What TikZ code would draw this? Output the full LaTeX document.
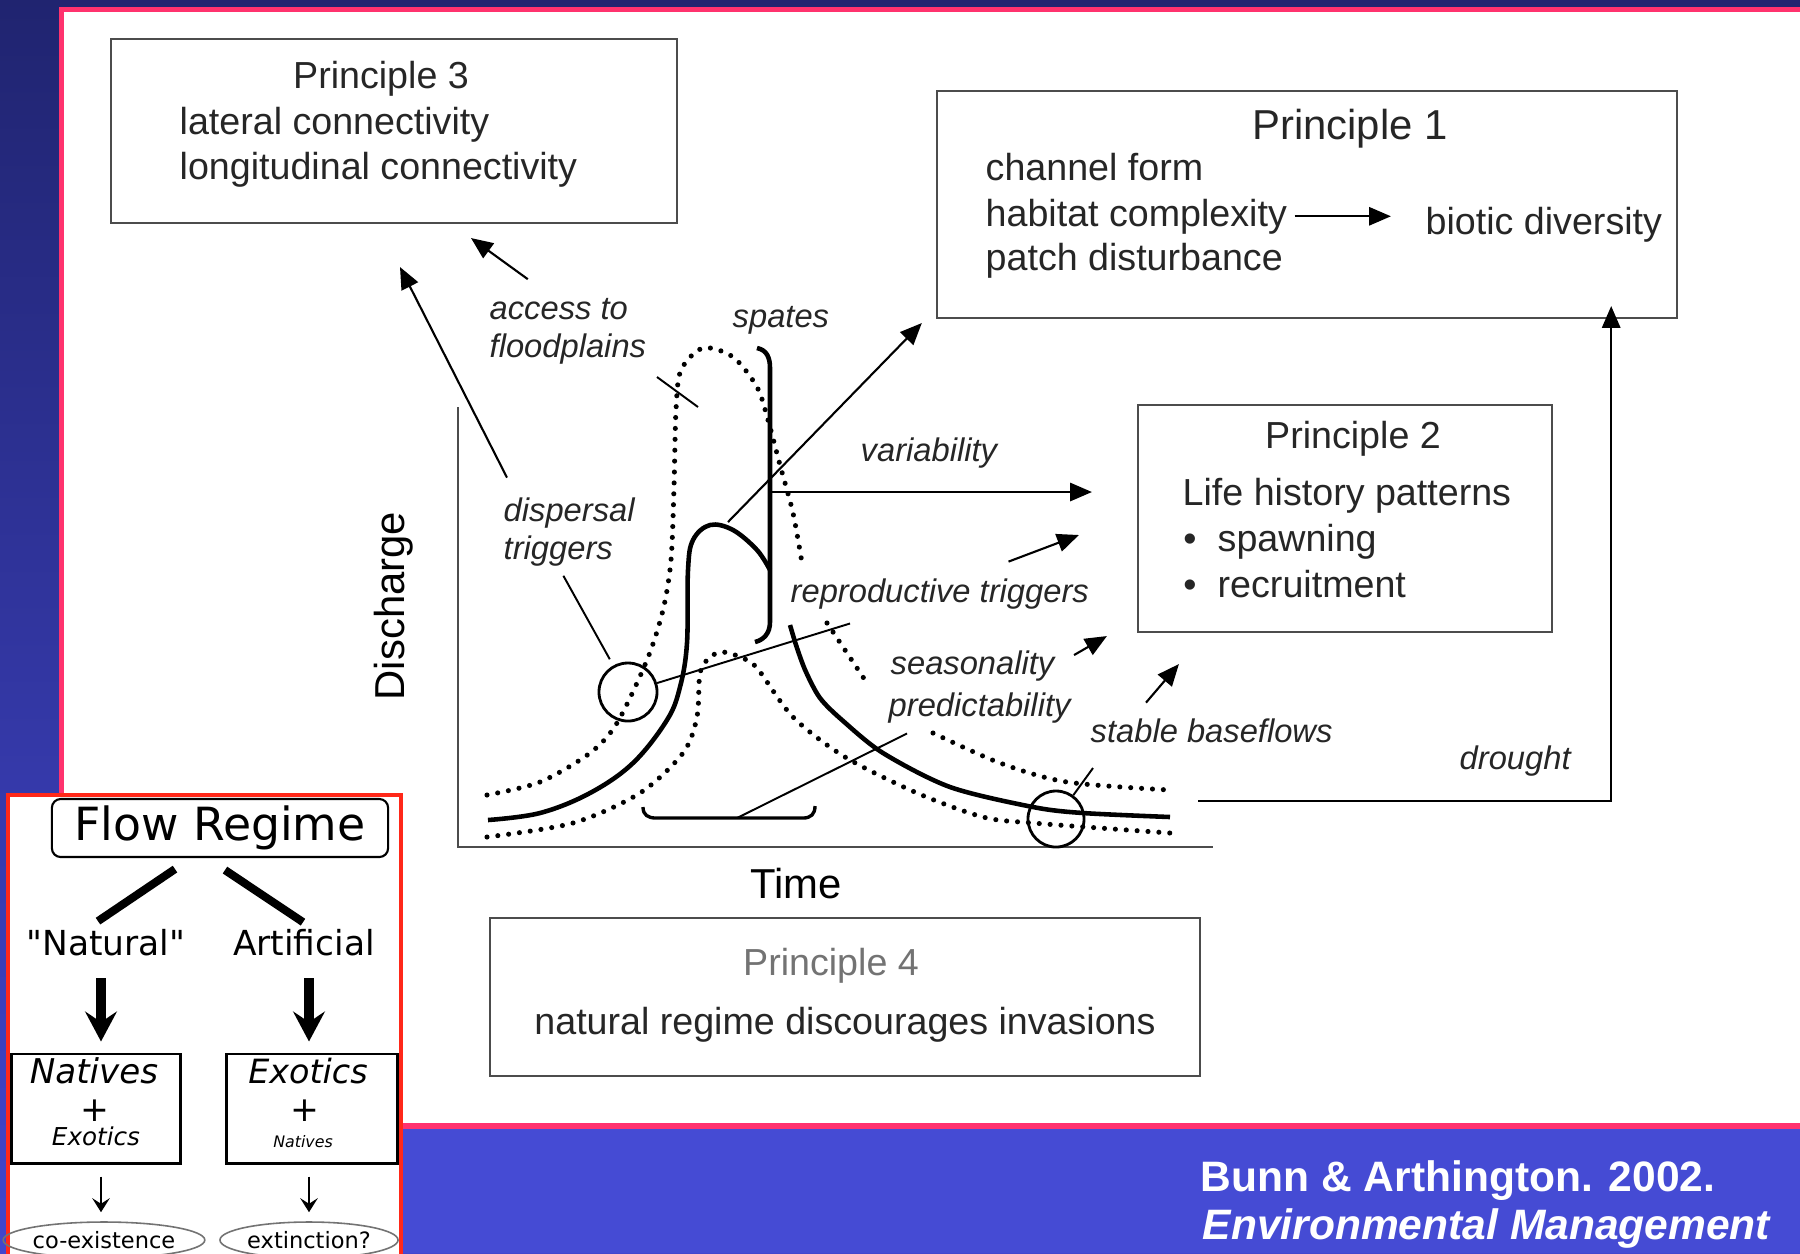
\documentclass[tikz,border=0pt]{standalone}
\usepackage{fontspec}
\setmainfont{Liberation Sans}
\newfontfamily\insetfont{DejaVu Sans}[ItalicFont={DejaVu Sans Oblique}]
\usetikzlibrary{arrows.meta,calc,shapes.geometric}
\definecolor{navytop}{RGB}{32,36,112}
\definecolor{navybot}{RGB}{66,70,205}
\definecolor{bandblue}{RGB}{69,75,212}
\definecolor{pinkline}{RGB}{255,50,110}
\definecolor{insetred}{RGB}{255,40,25}
\newcommand{\ptfont}{\fontsize{10.7}{12.8}\selectfont}
\newcommand{\pthead}{\fontsize{11.9}{14}\selectfont}
\newcommand{\lblfont}{\fontsize{9.3}{11}\selectfont\itshape}
\newcommand{\axfont}{\fontsize{11.9}{14}\selectfont}
\newcommand{\citefont}{\fontsize{12.1}{14}\selectfont\bfseries}
\newcommand{\insetsize}[1]{\insetfont\fontsize{#1}{#1}\selectfont}
\tikzset{
  pbox/.style={draw=black!70,line width=0.55pt,inner sep=0},
  ptxt/.style={inner sep=0,font=\ptfont,text=black!85},
  lbl/.style={inner sep=0,font=\lblfont,text=black!85},
  hydro/.style={line width=1.3pt},
  envel/.style={line width=1.45pt,line cap=round,dash pattern=on 0pt off 3.1pt},
  lead/.style={line width=0.55pt},
  ring/.style={circle,draw,line width=0.8pt,inner sep=0},
  axisline/.style={draw=black!70,line width=0.6pt},
  parrow/.style={line width=0.6pt,-{Stealth[inset=0pt,length=6.2pt,width=5.2pt]}},
  insettxt/.style={inner sep=0,font=\insetsize{9.8}},
  flowbox/.style={draw,rounded corners=2.5pt,line width=0.6pt,inner sep=0,
    minimum width=3.36cm,minimum height=0.58cm,font=\insetsize{13}},
  bar/.style={line width=2.3pt},
  smallbox/.style={draw,line width=0.85pt,inner sep=0,minimum height=1.09cm},
  bigarrow/.style={line width=2.9pt,-{Stealth[length=8.5pt,width=9pt,inset=3pt]}},
  smallarrow/.style={line width=0.75pt,-{Stealth[length=4pt,width=5pt,inset=1.6pt]}},
  oval/.style={ellipse,draw=black!55,line width=0.45pt,inner sep=0,
    minimum height=0.36cm,font=\insetsize{6.4}},
  citetxt/.style={inner sep=0,text=white,font=\citefont},
}

\begin{document}
\begin{tikzpicture}[x=0.01cm,y=-0.01cm]
    \useasboundingbox (0,0) rectangle (1800,1253);
    \clip (0,0) rectangle (1800,1253);
    \shade[top color=navytop,bottom color=navybot] (0,0) rectangle (1800,1253);
    \fill[pinkline] (59,7) rectangle (1800,1129);
    \fill[white] (64,12) rectangle (1800,1123);
    \fill[bandblue] (59,1129) rectangle (1800,1253);

    \node[pbox,minimum width=5.66cm,minimum height=1.84cm] (p3) at (394,131) {};
    \node[ptxt,anchor=base] (p3head) at (381,88) {Principle 3};
    \node[ptxt,anchor=base west] (p3lat) at (179,134) {lateral connectivity};
    \node[ptxt,anchor=base west] (p3lon) at (179,179) {longitudinal connectivity};

    \node[pbox,minimum width=7.40cm,minimum height=2.27cm] (p1) at (1307,204.5) {};
    \node[ptxt,anchor=base,font=\pthead] (p1head) at (1350,139) {Principle 1};
    \node[ptxt,anchor=base west] (chan) at (985,180) {channel form};
    \node[ptxt,anchor=base west] (hab) at (985,226) {habitat complexity};
    \node[ptxt,anchor=base west] (patch) at (985,270) {patch disturbance};
    \node[ptxt,anchor=base west] (bio) at (1425,234) {biotic diversity};

    \node[pbox,minimum width=4.14cm,minimum height=2.27cm] (p2) at (1345,518.5) {};
    \node[ptxt,anchor=base] (p2head) at (1353,448) {Principle 2};
    \node[ptxt,anchor=base west] (life) at (1182,505) {Life history patterns};
    \node[ptxt,anchor=base] (bul1) at (1190,551) {\textbullet};
    \node[ptxt,anchor=base west] (spawn) at (1217,551) {spawning};
    \node[ptxt,anchor=base] (bul2) at (1190,597) {\textbullet};
    \node[ptxt,anchor=base west] (recr) at (1217,597) {recruitment};

    \node[pbox,minimum width=7.10cm,minimum height=1.58cm] (p4) at (845,997) {};
    \node[ptxt,anchor=base,text=black!55] (p4head) at (831,975) {Principle 4};
    \node[ptxt,anchor=base] (p4txt) at (845,1034) {natural regime discourages invasions};

    \coordinate (ytop) at (458,407);
    \coordinate (origin) at (458,847);
    \coordinate (xend) at (1213,847);
    \draw[axisline] (ytop) -- (origin) -- (xend);
    \node[font=\axfont,rotate=90] (dis) at (394,606) {Discharge};
    \node[font=\axfont] (time) at (796,884) {Time};

    \draw[envel] plot[smooth] coordinates {(487,795) (540,782) (590,753) (617,723) (647,660)
      (663,610) (671,560) (674,487) (676,410) (681,370) (703,348) (733,357) (757,387)
      (768,420) (780,465) (793,513) (802,563)};
    \draw[envel] plot[smooth] coordinates {(827,623) (845,650) (867,683)};
    \draw[envel] plot[smooth] coordinates {(933,733) (1000,763) (1067,782) (1170,790)};
    \draw[envel] plot[smooth] coordinates {(487,837) (573,823) (640,793) (683,753) (697,717)
      (700,673) (710,657) (723,652) (740,657) (757,668) (793,717) (845,757) (917,793)
      (983,817) (1033,823) (1170,833)};
    \draw[hydro] plot[smooth,tension=0.6] coordinates {(488,820) (540,813) (590,793) (633,763)
      (667,720) (680,687) (687,643) (688,570) (693,540) (710,525) (733,530) (757,550) (770,570)};
    \draw[hydro] (757,348) .. controls (767,350) and (770,358) .. (770,368) -- (770,622)
      .. controls (770,634) and (763,640) .. (755,642);
    \draw[hydro] plot[smooth] coordinates {(790,625) (797,648) (806,672) (820,698) (842,720)
      (883,753) (950,787) (1033,807) (1083,813) (1170,817)};
    \draw[hydro,line width=0.95pt] (643,807) .. controls (643,815) and (648,818) .. (656,818)
      -- (803,818) .. controls (811,818) and (815,814) .. (815,806);
    \draw[lead] (657,377) -- (698,407);
    \coordinate (brk) at (737,818);
    \coordinate (hump) at (728,522);
    \coordinate (spl) at (770,492);
    \coordinate (drt) at (1198,801);

    \node[ring,minimum size=0.58cm] (dcirc) at (628,692) {};
    \node[ring,minimum size=0.56cm] (bcirc) at (1056,819) {};

    \node[lbl,anchor=base west] (access) at (489,319) {access to};
    \node[lbl,anchor=base west] (flood) at (489,357) {floodplains};
    \node[lbl,anchor=base west] (spates) at (732,327) {spates};
    \node[lbl,anchor=base west] (vari) at (860,461) {variability};
    \node[lbl,anchor=base west] (disp) at (503,521) {dispersal};
    \node[lbl,anchor=base west] (trig) at (503,559) {triggers};
    \node[lbl,anchor=base west] (repro) at (790,602) {reproductive triggers};
    \node[lbl,anchor=base west] (season) at (890,674) {seasonality};
    \node[lbl,anchor=base west] (pred) at (888,716) {predictability};
    \node[lbl,anchor=base west] (stable) at (1090,742) {stable baseflows};
    \node[lbl,anchor=base west] (drought) at (1459,769) {drought};

    \draw[lead,shorten <=3pt,shorten >=2pt] (trig.south) -- (dcirc);
    \draw[lead] (dcirc) -- ($(repro.south west)+(60,14)$);
    \draw[lead] (brk) -- ($(pred.south west)+(19,10)$);
    \draw[lead] (bcirc) -- ($(stable.south west)+(3,25)$);

    \draw[parrow] ($(access.north)+(-31,-18)$) -- ($(p3.south)+(77,14)$);
    \draw[parrow] ($(disp.north west)+(4,-19)$) -- ($(p3.south)+(6,43)$);
    \draw[parrow] (hump) -- ($(p1.south west)+(-14,4)$);
    \draw[parrow] (spl) -- ($(p2.west)+(-45,-26.5)$);
    \draw[parrow] ($(repro.north east)+(-81,-16)$) -- ($(p2.west)+(-58,16.5)$);
    \draw[parrow] ($(season.east)+(19,-10.5)$) -- ($(p2.south west)+(-30,3)$);
    \draw[parrow] ($(stable.north west)+(56,-15)$) -- ($(p2.south west)+(42,31)$);
    \draw[parrow] (drt) -| ($(p1.south east)+(-67,-13)$);
    \draw[parrow,shorten <=2pt,shorten >=9.7pt] (hab.east) -- (hab.east -| bio.west);

    \fill[white] (8,795) rectangle (401,1270);
    \draw[insetred,line width=1pt] (8,795) rectangle (401,1270);
    \node[flowbox] (flow) at (220,828) {Flow Regime};
    \node[insettxt,anchor=base] (nat) at (106,955) {"Natural"};
    \node[insettxt,anchor=base] (art) at (304,955) {Artificial};
    \draw[bar] ($(flow.south)+(-45,11)$) -- ($(nat.north)+(-8,-7)$);
    \draw[bar] ($(flow.south)+(5,12)$) -- ($(art.north)+(-1,-6)$);
    \node[smallbox,minimum width=1.68cm] (natbox) at (96,1108.5) {};
    \node[smallbox,minimum width=1.70cm] (exbox) at (312,1108.5) {};
    \node[insettxt,anchor=base,font=\insetsize{9.7}\itshape] (natA) at (94,1083) {Natives};
    \node[insettxt] (natP) at (95,1111) {+};
    \node[insettxt,anchor=base,font=\insetsize{7}\itshape] (natB) at (96,1145) {Exotics};
    \node[insettxt,anchor=base,font=\insetsize{9.5}\itshape] (exA) at (308,1083) {Exotics};
    \node[insettxt] (exP) at (305,1111) {+};
    \node[insettxt,anchor=base,font=\insetsize{4.5}\itshape] (exB) at (303,1147) {Natives};
    \draw[bigarrow] ($(nat.south)+(-5,22)$) -- ($(natbox.north)+(5,-11)$);
    \draw[bigarrow] ($(art.south)+(5,22)$) -- ($(exbox.north)+(-3,-11)$);
    \node[oval,minimum width=1.85cm] (coex) at (104,1240) {co-existence};
    \node[oval,minimum width=1.78cm] (ext) at (309,1240) {extinction?};
    \draw[smallarrow] ($(natbox.south)+(5,12)$) -- ($(coex.north)+(-3,-9)$);
    \draw[smallarrow] ($(exbox.south)+(-3,12)$) -- ($(ext.north)+(0,-9)$);

    \node[citetxt,anchor=base west] (cite1) at (1200,1191) {Bunn \& Arthington. 2002.};
    \node[citetxt,anchor=base west,font=\citefont\itshape] (cite2) at (1202,1239) {Environmental Management};
\end{tikzpicture}
\end{document}
